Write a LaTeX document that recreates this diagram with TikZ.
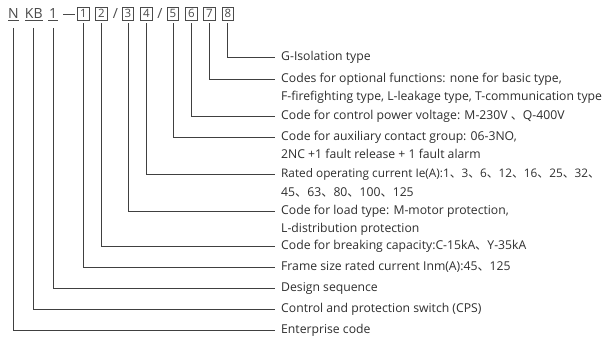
\documentclass[tikz,border=0pt]{standalone}
\usepackage{fontspec}
\setmainfont{Open Sans}
\newfontfamily\cjk{Noto Sans CJK SC}
\newcommand{\dun}{{\cjk 、}}
\definecolor{txt}{HTML}{2E2E2E}
\definecolor{ln}{HTML}{404040}
\definecolor{top}{HTML}{4A4A4A}
\begin{document}
\begin{tikzpicture}[x=1pt,y=-1pt,
  desc/.style={anchor=west,inner xsep=0pt,inner ysep=0pt,text height=9pt,text depth=2.6pt,font=\fontsize{12.2}{13}\selectfont,text=txt},
  letter/.style={inner sep=0pt,text height=10pt,text depth=0pt,font=\fontsize{14}{15}\selectfont,text=top},
  digbox/.style={draw=top,line width=0.7pt,minimum width=11.5pt,minimum height=13.8pt,inner sep=0pt,font=\fontsize{11.5}{12}\selectfont,text=top},
  conn/.style={draw=ln,line width=0.8pt},
  uline/.style={draw=top,line width=0.8pt}]
\useasboundingbox (0,0) rectangle (607,337);
% top row
\node[letter] (cN) at (13.5,13.8) {N};
\node[letter] (cKB) at (33.8,13.8) {KB};
\node[letter] (c1) at (53.2,13.8) {1};
\node[letter] (dash) at (69,13.8) {\rule[4.2pt]{11.5pt}{0.8pt}};
\node[digbox] (b1) at (83.5,13.8) {1};
\node[digbox] (b2) at (101.5,13.8) {2};
\node[letter] (s1) at (115.5,13.8) {/};
\node[digbox] (b3) at (128,13.8) {3};
\node[digbox] (b4) at (146.3,13.8) {4};
\node[letter] (s2) at (160,13.8) {/};
\node[digbox] (b5) at (173,13.8) {5};
\node[digbox] (b6) at (191.5,13.8) {6};
\node[digbox] (b7) at (209.3,13.8) {7};
\node[digbox] (b8) at (227.8,13.8) {8};
\draw[uline] (8.3,20.8) -- (18.5,20.8);
\draw[uline] (25,20.8) -- (43,20.8);
\draw[uline] (48,20.8) -- (58.3,20.8);
% descriptions
\node[desc] (t8) at (281,57) {G-Isolation type};
\node[desc] (t7) at (281,79) {Codes for optional functions: none for basic type,};
\node[desc] (t7b) at (281,97.5) {F-firefighting type, L-leakage type, T-communication type};
\node[desc] (t6) at (281,116.5) {Code for control power voltage: M-230V \dun Q-400V};
\node[desc] (t5) at (281,137) {Code for auxiliary contact group: 06-3NO,};
\node[desc] (t5b) at (281,155.5) {2NC +1 fault release + 1 fault alarm};
\node[desc,font=\fontsize{11.8}{13}\selectfont] (t4) at (281,174.5) {Rated operating current Ie(A):1\dun 3\dun 6\dun 12\dun 16\dun 25\dun 32\dun};
\node[desc] (t4b) at (281,193) {45\dun 63\dun 80\dun 100\dun 125};
\node[desc] (t3) at (281,211.5) {Code for load type: M-motor protection,};
\node[desc] (t3b) at (281,229) {L-distribution protection};
\node[desc] (t2) at (281,246) {Code for breaking capacity:C-15kA\dun Y-35kA};
\node[desc] (t1) at (281,267) {Frame size rated current Inm(A):45\dun 125};
\node[desc] (td) at (281,288.5) {Design sequence};
\node[desc] (tkb) at (281,309) {Control and protection switch (CPS)};
\node[desc] (tn) at (281,330.5) {Enterprise code};
% connectors
\draw[conn] ([yshift=-2.2pt]b8.south) |- ([xshift=-6pt]t8.west);
\draw[conn] ([yshift=-2.2pt]b7.south) |- ([xshift=-6pt]t7.west);
\draw[conn] ([yshift=-2.2pt]b6.south) |- ([xshift=-6pt]t6.west);
\draw[conn] ([yshift=-2.2pt]b5.south) |- ([xshift=-6pt]t5.west);
\draw[conn] ([yshift=-2.2pt]b4.south) |- ([xshift=-6pt]t4.west);
\draw[conn] ([yshift=-2.2pt]b3.south) |- ([xshift=-6pt]t3.west);
\draw[conn] ([yshift=-2.2pt]b2.south) |- ([xshift=-6pt]t2.west);
\draw[conn] ([yshift=-2.2pt]b1.south) |- ([xshift=-6pt]t1.west);
\draw[conn] ([yshift=-9pt]c1.south) |- ([xshift=-6pt]td.west);
\draw[conn] ([yshift=-9pt]cKB.south) |- ([xshift=-6pt]tkb.west);
\draw[conn] ([yshift=-9pt]cN.south) |- ([xshift=-6pt]tn.west);
\end{tikzpicture}
\end{document}
